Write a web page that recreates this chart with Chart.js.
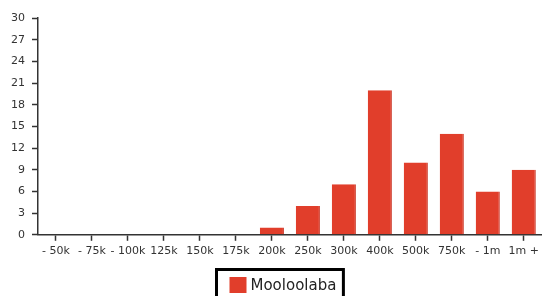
<!DOCTYPE html>
<html>
<head>
<meta charset="utf-8">
<script src="https://cdn.jsdelivr.net/npm/chart.js@4/dist/chart.umd.min.js"></script>
<style>
  html, body { margin: 0; padding: 0; background: #fff; }
  #wrap { width: 543px; height: 296px; position: relative; }
</style>
</head>
<body>
<div id="wrap"><canvas id="c" width="543" height="296"></canvas></div>
<script>
const categories = ["- 50k", "- 75k", "- 100k", "125k", "150k", "175k", "200k", "250k", "300k", "400k", "500k", "750k", "- 1m", "1m +"];
const seriesName = "Mooloolaba";
const seriesValues = [0, 0, 0, 0, 0, 0, 1, 4, 7, 20, 10, 14, 6, 9];
const yTicks = [0, 3, 6, 9, 12, 15, 18, 21, 24, 27, 30];

const FONT = "'DejaVu Sans', sans-serif";
const BAR = '#e13e2b';

const boxLegend = {
  id: 'boxLegend',
  afterDraw(chart) {
    const ctx = chart.ctx;
    const ds = chart.data.datasets[0];
    ctx.save();
    ctx.font = '15px ' + FONT;
    const tw = ctx.measureText(ds.label).width;
    const sq = 17, gap = 4, padL = 13, padR = 7;
    const w = padL + sq + gap + tw + padR;
    const x0 = 216.5;
    const y0 = 269.5;
    ctx.lineWidth = 3;
    ctx.strokeStyle = '#000';
    ctx.strokeRect(x0, y0, w, 40);
    ctx.fillStyle = ds.backgroundColor;
    ctx.fillRect(x0 + padL, 277, sq, 16);
    ctx.fillStyle = '#222';
    ctx.textBaseline = 'middle';
    ctx.textAlign = 'left';
    ctx.fillText(ds.label, x0 + padL + sq + gap, 286);
    ctx.restore();
  }
};

new Chart(document.getElementById('c'), {
  type: 'bar',
  data: {
    labels: categories,
    datasets: [{
      label: seriesName,
      data: seriesValues,
      backgroundColor: BAR,
      borderColor: '#c93424',
      borderWidth: { left: 0, right: 1, top: 0, bottom: 0 },
      barPercentage: 0.67,
      categoryPercentage: 1.0
    }]
  },
  options: {
    responsive: false,
    animation: false,
    devicePixelRatio: 1,
    layout: { padding: { top: 18, right: 1, left: 0, bottom: 34 } },
    plugins: {
      legend: { display: false },
      tooltip: { enabled: false }
    },
    scales: {
      x: {
        offset: true,
        grid: { display: true, drawOnChartArea: false, offset: false, tickLength: 6, color: '#333', tickWidth: 1.5 },
        border: { display: true, color: '#333', width: 1.5 },
        ticks: { color: '#333', font: { family: FONT, size: 11 }, padding: 4, maxRotation: 0, autoSkip: false }
      },
      y: {
        min: 0, max: 30,
        afterBuildTicks(scale) { scale.ticks = yTicks.map(v => ({ value: v })); },
        afterFit(scale) { scale.width = 38; },
        grid: { display: true, drawOnChartArea: false, tickLength: 6, color: '#333', tickWidth: 1.5 },
        border: { display: true, color: '#333', width: 1.5 },
        ticks: { color: '#333', font: { family: FONT, size: 11 }, padding: 7 }
      }
    }
  },
  plugins: [boxLegend]
});
</script>
</body>
</html>
